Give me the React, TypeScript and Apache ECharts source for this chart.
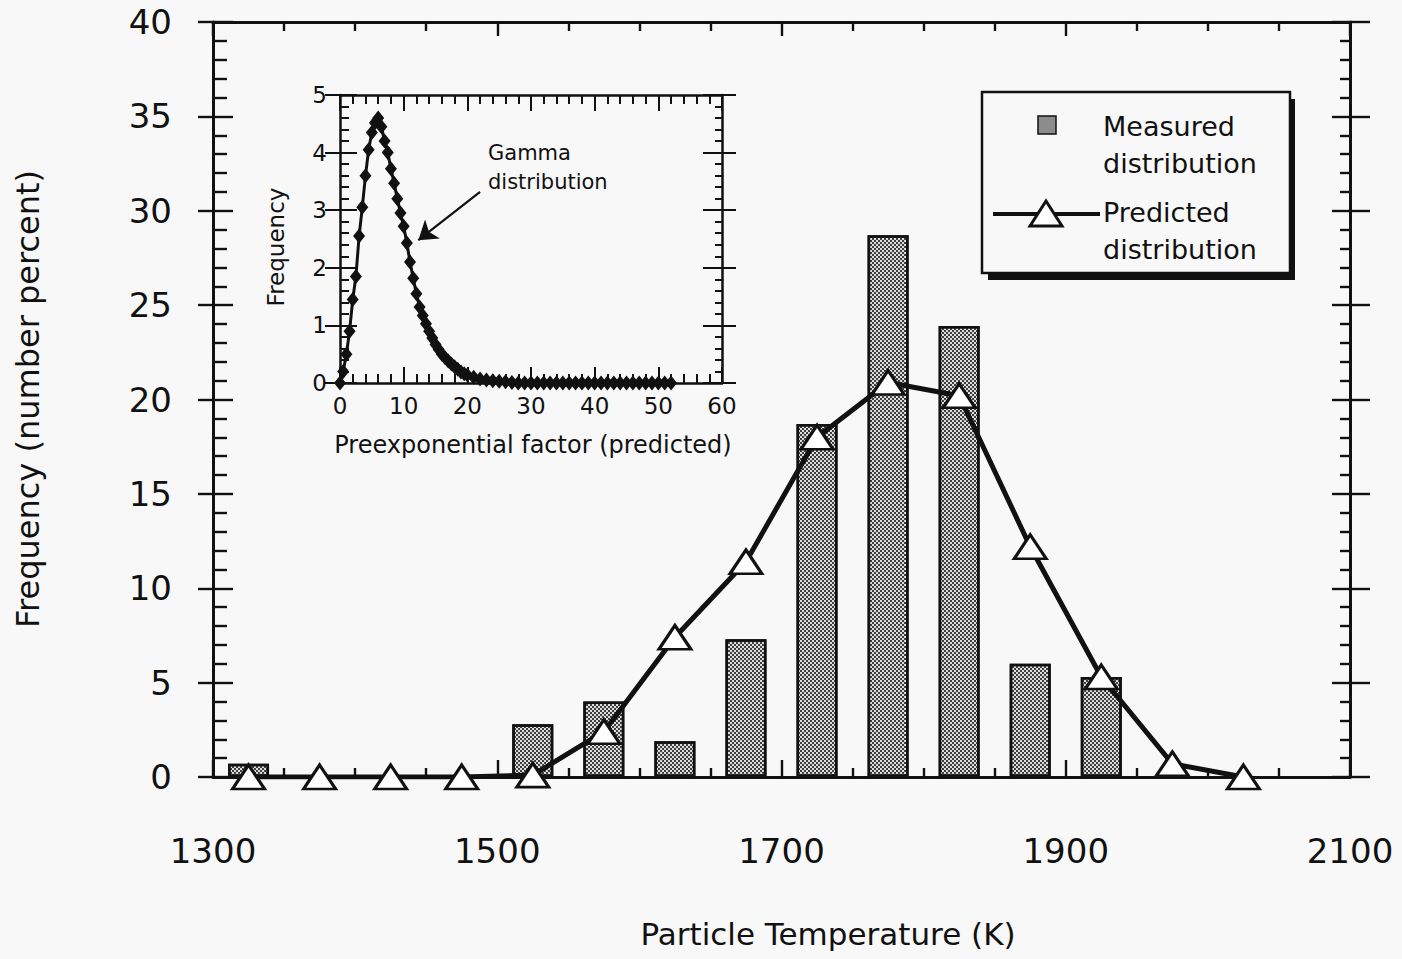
import React, { useEffect, useRef } from "react";
import * as echarts from "echarts";

// Main chart: particle temperature histogram (measured) and predicted distribution
const tempTickLabels = [1300, 1500, 1700, 1900, 2100];
const freqTickLabels = [0, 5, 10, 15, 20, 25, 30, 35, 40];
const tempBins = [1325, 1375, 1425, 1475, 1525, 1575, 1625, 1675, 1725, 1775, 1825, 1875, 1925, 1975, 2025];
const predictedPct = [0, 0, 0, 0, 0.1, 2.4, 7.4, 11.4, 18.0, 20.9, 20.2, 12.2, 5.3, 0.7, 0];
const measuredTemps = [1325, 1525, 1575, 1625, 1675, 1725, 1775, 1825, 1875, 1925];
const measuredPct = [0.7, 2.8, 4.0, 1.9, 7.3, 18.7, 28.7, 23.9, 6.0, 5.3];

// Inset: gamma distribution of the predicted preexponential factor
const factorTickLabels = [0, 10, 20, 30, 40, 50, 60];
const insetFreqTickLabels = [0, 1, 2, 3, 4, 5];
const factorValues = [
  0, 0.5, 1, 1.5, 2, 2.5, 3, 3.5, 4, 4.5,
  5, 5.5, 6, 6.5, 7, 7.5, 8, 8.5, 9, 9.5,
  10, 10.5, 11, 11.5, 12, 12.5, 13, 13.5, 14, 14.5,
  15, 15.5, 16, 16.5, 17, 17.5, 18, 18.5, 19, 19.5,
  20, 21, 22, 23, 24, 25, 26, 27, 28, 29,
  30, 31, 32, 33, 34, 35, 36, 37, 38, 39,
  40, 41, 42, 43, 44, 45, 46, 47, 48, 49,
  50, 51, 52,
];
const gammaFreq = [
  0, 0.2, 0.5, 0.9, 1.45, 1.85, 2.55, 3.05, 3.6, 4.05,
  4.35, 4.52, 4.6, 4.45, 4.2, 4.0, 3.72, 3.47, 3.2, 2.95,
  2.72, 2.43, 2.1, 1.82, 1.55, 1.32, 1.17, 1.03, 0.9, 0.78,
  0.67, 0.58, 0.5, 0.44, 0.38, 0.33, 0.28, 0.24, 0.19, 0.16,
  0.14, 0.1, 0.07, 0.05, 0.04, 0.03, 0.02, 0.01, 0, 0,
  0, 0, 0, 0, 0, 0, 0, 0, 0, 0,
  0, 0, 0, 0, 0, 0, 0, 0, 0, 0,
  0, 0, 0,
];
// Arrow from the "Gamma distribution" note to the curve (factor, frequency)
const arrowFrom = [22, 3.32];
const arrowTo = [12.3, 2.48];

const FONT = "'DejaVu Sans', 'Liberation Sans', sans-serif";
const INK = "#111111";
const PAPER = "#f8f8f8";

const span = (ticks: number[]) => ({
  min: ticks[0],
  max: ticks[ticks.length - 1],
  interval: ticks[1] - ticks[0],
});

type AxisOpts = {
  gridIndex: number;
  position: string;
  ticks: number[];
  line: boolean;
  inside: boolean;
  tickLen: number;
  minorSplit?: number;
  minorLen?: number;
  label?: { size: number; margin: number };
  lineWidth: number;
};

function frameAxis(o: AxisOpts) {
  return {
    type: "value",
    gridIndex: o.gridIndex,
    position: o.position,
    ...span(o.ticks),
    axisLine: { show: o.line, onZero: false, lineStyle: { color: INK, width: o.lineWidth } },
    axisTick: { show: true, inside: o.inside, length: o.tickLen, lineStyle: { color: INK, width: o.lineWidth * 0.8 } },
    minorTick: {
      show: !!o.minorSplit,
      splitNumber: o.minorSplit || 5,
      length: o.minorLen || 5,
      lineStyle: { color: INK, width: o.lineWidth * 0.8 },
    },
    splitLine: { show: false },
    minorSplitLine: { show: false },
    axisLabel: o.label
      ? {
          show: true,
          margin: o.label.margin,
          fontSize: o.label.size,
          fontFamily: FONT,
          color: INK,
          showMinLabel: true,
          showMaxLabel: true,
          formatter: (v: number) => String(v),
        }
      : { show: false },
    axisPointer: { show: false },
  };
}

const text = (x: number, y: number, t: string, size: number, extra: any = {}) => ({
  type: "text",
  x,
  y,
  z: 100,
  silent: true,
  ...extra,
  style: {
    text: t,
    fontSize: size,
    fontFamily: FONT,
    fill: INK,
    align: extra.align || "center",
    verticalAlign: "middle",
  },
});

function buildOption() {
  const xAxis = [
    frameAxis({ gridIndex: 0, position: "bottom", ticks: tempTickLabels, line: true, inside: true, tickLen: 17, minorSplit: 4, minorLen: 9, label: { size: 34, margin: 57 }, lineWidth: 3 }),
    frameAxis({ gridIndex: 0, position: "top", ticks: tempTickLabels, line: true, inside: true, tickLen: 14, minorSplit: 4, minorLen: 9, lineWidth: 3 }),
    frameAxis({ gridIndex: 1, position: "bottom", ticks: factorTickLabels, line: true, inside: true, tickLen: 16, minorSplit: 5, minorLen: 9, label: { size: 23, margin: 11 }, lineWidth: 2.5 }),
    frameAxis({ gridIndex: 1, position: "top", ticks: factorTickLabels, line: true, inside: true, tickLen: 16, minorSplit: 5, minorLen: 9, lineWidth: 2.5 }),
  ];
  const yAxis = [
    frameAxis({ gridIndex: 0, position: "left", ticks: freqTickLabels, line: true, inside: false, tickLen: 15, label: { size: 34, margin: 41 }, lineWidth: 3 }),
    frameAxis({ gridIndex: 0, position: "left", ticks: freqTickLabels, line: false, inside: true, tickLen: 20, minorSplit: 5, minorLen: 14, lineWidth: 3 }),
    frameAxis({ gridIndex: 0, position: "right", ticks: freqTickLabels, line: true, inside: false, tickLen: 20, lineWidth: 3 }),
    frameAxis({ gridIndex: 0, position: "right", ticks: freqTickLabels, line: false, inside: true, tickLen: 18, minorSplit: 5, minorLen: 10, lineWidth: 3 }),
    frameAxis({ gridIndex: 1, position: "left", ticks: insetFreqTickLabels, line: true, inside: false, tickLen: 15, label: { size: 23, margin: 13 }, lineWidth: 2.5 }),
    frameAxis({ gridIndex: 1, position: "left", ticks: insetFreqTickLabels, line: false, inside: true, tickLen: 17, minorSplit: 5, minorLen: 9, lineWidth: 2.5 }),
    frameAxis({ gridIndex: 1, position: "right", ticks: insetFreqTickLabels, line: true, inside: false, tickLen: 14, lineWidth: 2.5 }),
    frameAxis({ gridIndex: 1, position: "right", ticks: insetFreqTickLabels, line: false, inside: true, tickLen: 19, minorSplit: 5, minorLen: 7, lineWidth: 2.5 }),
  ];

  const legend = {
    type: "group",
    z: 100,
    children: [
      { type: "rect", shape: { x: 988, y: 99, width: 307, height: 181 }, style: { fill: INK }, z: 100 },
      { type: "rect", shape: { x: 982, y: 92, width: 308, height: 181 }, style: { fill: PAPER, stroke: INK, lineWidth: 2.5 }, z: 101 },
      { type: "rect", shape: { x: 1038, y: 116, width: 18, height: 18 }, style: { fill: "#8c8c8c", stroke: INK, lineWidth: 1.5 }, z: 102 },
      { type: "line", shape: { x1: 993, y1: 214, x2: 1100, y2: 214 }, style: { stroke: INK, lineWidth: 4 }, z: 102 },
      { type: "polygon", shape: { points: [[1030, 226], [1046, 201], [1062, 226]] }, style: { fill: "#ffffff", stroke: INK, lineWidth: 3 }, z: 103 },
      { ...text(1103, 126, "Measured", 27, { align: "left" }), z: 104 },
      { ...text(1103, 163, "distribution", 27, { align: "left" }), z: 104 },
      { ...text(1103, 212, "Predicted", 27, { align: "left" }), z: 104 },
      { ...text(1103, 249, "distribution", 27, { align: "left" }), z: 104 },
    ],
  };

  return {
    animation: false,
    backgroundColor: PAPER,
    grid: [
      { left: 213, top: 22, right: 52, bottom: 182, outerBoundsMode: "none", containLabel: false },
      { left: 340, top: 95, width: 382, height: 288, outerBoundsMode: "none", containLabel: false },
    ],
    xAxis,
    yAxis,
    series: [
      {
        name: "Measured distribution",
        type: "bar",
        xAxisIndex: 0,
        yAxisIndex: 0,
        barWidth: 41,
        z: 2,
        data: measuredTemps.map((t, i) => [t, measuredPct[i]]),
        itemStyle: {
          color: "#dcdcdc",
          borderColor: INK,
          borderWidth: 2.5,
          decal: {
            symbol: "rect",
            symbolSize: 1,
            color: "rgba(25,25,25,0.8)",
            dashArrayX: [[2, 2], [0, 2, 2, 0]],
            dashArrayY: [2, 0],
            rotation: 0,
          },
        },
        emphasis: { disabled: true },
      },
      {
        name: "Predicted distribution",
        type: "line",
        xAxisIndex: 0,
        yAxisIndex: 0,
        z: 3,
        data: tempBins.map((t, i) => [t, predictedPct[i]]),
        symbol: "triangle",
        symbolSize: [32, 24],
        showAllSymbol: true,
        lineStyle: { color: INK, width: 5 },
        itemStyle: { color: "#ffffff", borderColor: INK, borderWidth: 3 },
        emphasis: { disabled: true },
      },
      {
        name: "Gamma distribution",
        type: "line",
        xAxisIndex: 2,
        yAxisIndex: 4,
        z: 5,
        data: factorValues.map((f, i) => [f, gammaFreq[i]]),
        symbol: "diamond",
        symbolSize: [12, 15],
        showAllSymbol: true,
        lineStyle: { color: INK, width: 3 },
        itemStyle: { color: INK },
        emphasis: { disabled: true },
        markLine: {
          silent: true,
          animation: false,
          symbol: ["none", "arrow"],
          symbolSize: 18,
          label: { show: false },
          lineStyle: { color: INK, width: 2.2, type: "solid" },
          itemStyle: { color: INK },
          emphasis: { disabled: true },
          data: [[{ coord: arrowFrom }, { coord: arrowTo }]],
        },
      },
    ],
    graphic: [
      text(828, 934, "Particle Temperature (K)", 31),
      text(28, 399, "Frequency (number percent)", 32, { rotation: Math.PI / 2 }),
      text(533, 445, "Preexponential factor (predicted)", 24),
      text(276, 247, "Frequency", 23, { rotation: Math.PI / 2 }),
      text(488, 153, "Gamma", 21, { align: "left" }),
      text(488, 182, "distribution", 21, { align: "left" }),
      legend,
    ],
  };
}

export default function App() {
  const ref = useRef<HTMLDivElement>(null);
  useEffect(() => {
    if (!ref.current) return;
    const chart = echarts.init(ref.current, null, { renderer: "svg" });
    chart.setOption(buildOption() as any);
    return () => chart.dispose();
  }, []);
  return (
    <div
      ref={ref}
      style={{ position: "fixed", left: 0, top: 0, width: 1402, height: 959, background: PAPER }}
    />
  );
}
